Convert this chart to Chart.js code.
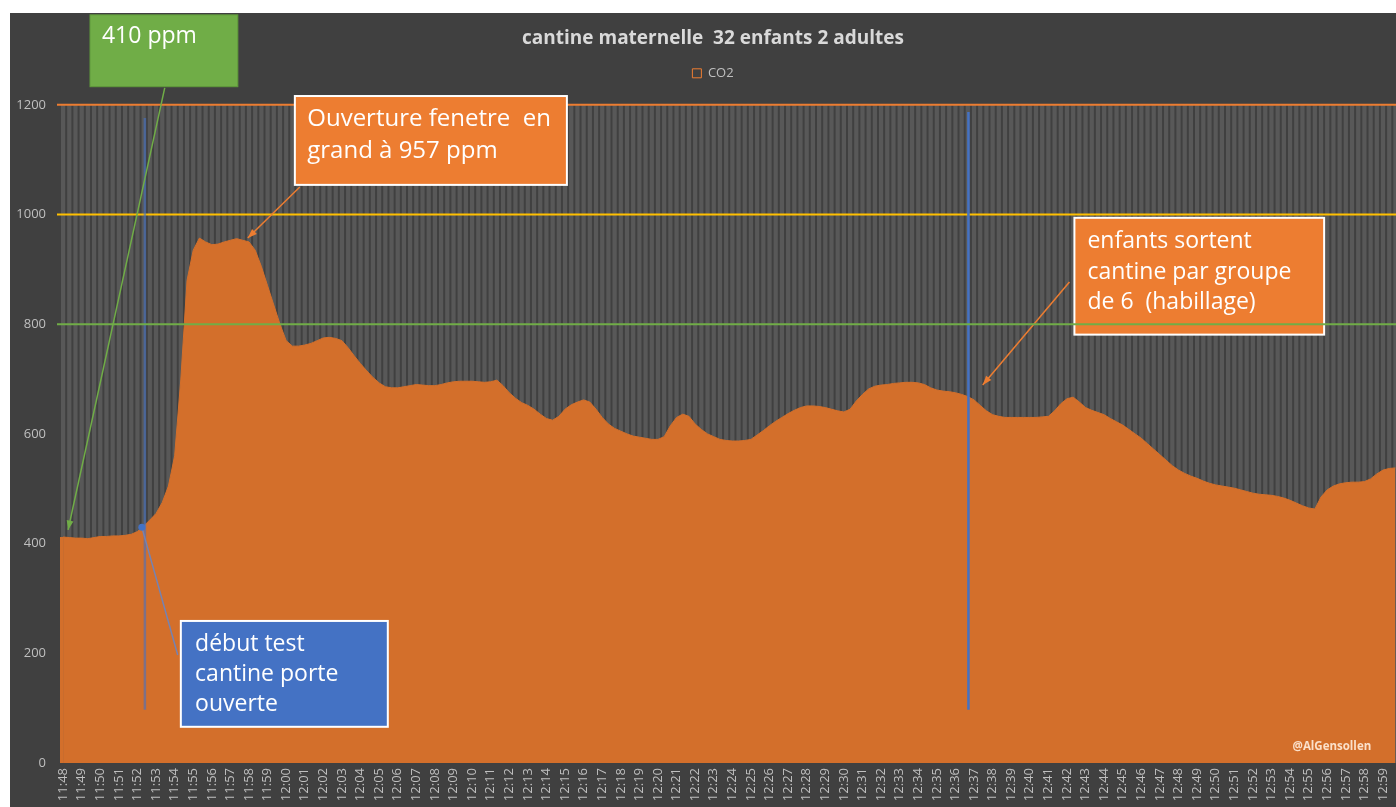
<!DOCTYPE html>
<html lang="fr">
<head>
<meta charset="utf-8">
<title>cantine maternelle</title>
<script src="https://cdn.jsdelivr.net/npm/chart.js@4.4.1/dist/chart.umd.min.js"></script>
<style>
  html, body { margin: 0; padding: 0; background: #fff; overflow: hidden; }
  #wrap { position: absolute; left: 10px; top: 13px; width: 1406px; height: 807px; }
</style>
</head>
<body>
<div id="wrap"><canvas id="co2Chart"></canvas></div>
<script>
const minutes = [
  "11:48", "11:49", "11:50", "11:51", "11:52", "11:53", "11:54", "11:55", "11:56", "11:57", "11:58", "11:59",
  "12:00", "12:01", "12:02", "12:03", "12:04", "12:05", "12:06", "12:07", "12:08", "12:09", "12:10", "12:11",
  "12:12", "12:13", "12:14", "12:15", "12:16", "12:17", "12:18", "12:19", "12:20", "12:21", "12:22", "12:23",
  "12:24", "12:25", "12:26", "12:27", "12:28", "12:29", "12:30", "12:31", "12:32", "12:33", "12:34", "12:35",
  "12:36", "12:37", "12:38", "12:39", "12:40", "12:41", "12:42", "12:43", "12:44", "12:45", "12:46", "12:47",
  "12:48", "12:49", "12:50", "12:51", "12:52", "12:53", "12:54", "12:55", "12:56", "12:57", "12:58", "12:59"
];
const secondes = ["00", "20", "40"];

// CO2 en ppm, une mesure toutes les 20 s
const co2 = [
  412, 411, 410, 410, 409, 411, 413, 413, 414, 414, 415, 417,
  422, 432, 443, 455, 475, 505, 560, 700, 880, 935, 957, 950,
  945, 946, 950, 953, 956, 953, 950, 935, 905, 870, 835, 800,
  770, 760, 760, 762, 765, 770, 775, 776, 774, 770, 757, 742,
  728, 715, 703, 693, 686, 684, 684, 686, 688, 690, 689, 688,
  688, 690, 693, 695, 696, 696, 696, 695, 694, 695, 698, 688,
  675, 665, 657, 652, 645, 636, 628, 625, 632, 645, 653, 658,
  662, 658, 645, 630, 618, 610, 605, 600, 596, 594, 592, 590,
  590, 595, 615, 630, 636, 632, 618, 608, 600, 595, 590, 588,
  587, 587, 588, 590, 598, 606, 615, 623, 630, 637, 643, 648,
  651, 651, 650, 648, 645, 642, 640, 645, 660, 672, 682, 687,
  689, 690, 692, 693, 694, 694, 693, 690, 684, 680, 678, 677,
  675, 672, 668, 662, 652, 642, 635, 632, 630, 630, 630, 630,
  630, 630, 631, 632, 642, 655, 664, 667, 658, 648, 643, 639,
  635, 628, 622, 616, 608, 600, 592, 582, 572, 562, 552, 542,
  534, 528, 523, 519, 514, 510, 507, 505, 503, 501, 498, 495,
  492, 490, 489, 488, 486, 483, 479, 474, 469, 465, 463, 485,
  498, 505, 509, 511, 512, 512, 513, 518, 527, 534, 537, 538
];

const seuils = [1200, 1000, 800];
const seuilCouleurs = ["#ED7D31", "#FFC000", "#70AD47"];

const labels = minutes.flatMap(m => secondes.map(s => m + ":" + s));

const FONT = "'Open Sans'";
const ORANGE_AIRE = "#d36f2b";

function fleche(ctx, x1, y1, x2, y2, couleur) {
  ctx.strokeStyle = couleur;
  ctx.fillStyle = couleur;
  ctx.lineWidth = 1.5;
  ctx.beginPath();
  ctx.moveTo(x1, y1);
  ctx.lineTo(x2, y2);
  ctx.stroke();
  const a = Math.atan2(y2 - y1, x2 - x1), t = 10;
  ctx.beginPath();
  ctx.moveTo(x2, y2);
  ctx.lineTo(x2 - t * Math.cos(a - 0.35), y2 - t * Math.sin(a - 0.35));
  ctx.lineTo(x2 - t * Math.cos(a + 0.35), y2 - t * Math.sin(a + 0.35));
  ctx.closePath();
  ctx.fill();
}

function boite(ctx, x1, y1, x2, y2, fond, bord, bordLargeur) {
  ctx.fillStyle = fond;
  ctx.fillRect(x1, y1, x2 - x1, y2 - y1);
  ctx.strokeStyle = bord;
  ctx.lineWidth = bordLargeur;
  ctx.strokeRect(x1, y1, x2 - x1, y2 - y1);
}

function texte(ctx, lignes, x, ys, taille) {
  ctx.fillStyle = "#ffffff";
  ctx.font = taille + "px " + FONT;
  ctx.textAlign = "left";
  ctx.textBaseline = "middle";
  lignes.forEach((l, i) => ctx.fillText(l, x, ys[i]));
}

function seuil(chart, k) {
  const { ctx, chartArea, scales: { y } } = chart;
  const py = y.getPixelForValue(seuils[k]);
  ctx.strokeStyle = seuilCouleurs[k];
  ctx.lineWidth = 2;
  ctx.beginPath();
  ctx.moveTo(chartArea.left - 3, py);
  ctx.lineTo(chart.width, py);
  ctx.stroke();
}

const fondPlugin = {
  id: "fond",
  beforeInit(chart) {
    // un peu plus d'espace sous la légende
    const fit = chart.legend.fit;
    chart.legend.fit = function () {
      fit.call(this);
      this.height += 15;
    };
  },
  beforeDraw(chart) {
    const { ctx, width, height } = chart;
    ctx.save();
    ctx.fillStyle = "#404040";
    ctx.fillRect(0, 0, width, height);
    ctx.restore();
  },
  beforeDatasetsDraw(chart) {
    const { ctx, scales: { x, y } } = chart;
    const w = (x.getPixelForValue(1) - x.getPixelForValue(0)) * 0.68;
    const top = y.getPixelForValue(1200), bas = y.getPixelForValue(0);
    ctx.save();
    ctx.fillStyle = "#585858";
    labels.forEach((l, i) => {
      ctx.fillRect(x.getPixelForValue(i) - w / 2, top, w, bas - top);
    });
    ctx.restore();
  },
  afterDatasetsDraw(chart) {
    const { ctx, chartArea, scales: { x, y } } = chart;
    ctx.save();
    // l'aire commence au bord gauche du graphique
    const y0 = y.getPixelForValue(co2[0]);
    ctx.fillStyle = ORANGE_AIRE;
    ctx.fillRect(chartArea.left, y0, x.getPixelForValue(0) - chartArea.left + 0.5, y.getPixelForValue(0) - y0);
    seuil(chart, 0);
    seuil(chart, 1);
    ctx.restore();
  }
};

const notesPlugin = {
  id: "notes",
  afterDraw(chart) {
    const { ctx, scales: { x, y } } = chart;
    const px = v => x.getPixelForValue(v);
    const py = v => y.getPixelForValue(v);
    ctx.save();

    // lignes verticales bleues
    ctx.lineWidth = 2.5;
    ctx.strokeStyle = "rgba(68,114,196,0.6)";
    ctx.beginPath(); ctx.moveTo(px(13.2), py(1176)); ctx.lineTo(px(13.2), py(97)); ctx.stroke();
    ctx.strokeStyle = "#4472C4";
    ctx.beginPath(); ctx.moveTo(px(146.1), py(1187)); ctx.lineTo(px(146.1), py(97)); ctx.stroke();

    // 410 ppm
    boite(ctx, px(4.34), py(1364), px(28.2), py(1233), "#70AD47", "#5f9a3b", 1);
    texte(ctx, ["410 ppm"], px(6.27), [py(1324)], 23);
    fleche(ctx, px(16.4), py(1231), px(0.8), py(425), "#70AD47");

    // ouverture fenetre
    boite(ctx, px(37.4), py(1216), px(81.3), py(1054), "#ED7D31", "#ffffff", 2);
    texte(ctx, ["Ouverture fenetre  en", "grand à 957 ppm"], px(39.4), [py(1174), py(1116)], 24);
    fleche(ctx, px(38.2), py(1050), px(29.8), py(957), "#ED7D31");

    // enfants sortent
    boite(ctx, px(163.2), py(994), px(203.5), py(781), "#ED7D31", "#ffffff", 2);
    texte(ctx, ["enfants sortent", "cantine par groupe", "de 6  (habillage)"], px(165.3), [py(950), py(895), py(839)], 23);
    fleche(ctx, px(162.4), py(877), px(148.4), py(689), "#ED7D31");

    // debut test
    boite(ctx, px(19.0), py(259), px(52.4), py(66), "#4472C4", "#ffffff", 2);
    texte(ctx, ["début test", "cantine porte", "ouverte"], px(21.3), [py(217), py(162), py(106)], 23);
    ctx.strokeStyle = "#7483b3";
    ctx.lineWidth = 1.5;
    ctx.beginPath(); ctx.moveTo(px(18.5), py(197)); ctx.lineTo(px(12.7), py(430)); ctx.stroke();
    ctx.fillStyle = "#4472C4";
    ctx.beginPath(); ctx.arc(px(12.7), py(430), 3.5, 0, Math.PI * 2); ctx.fill();

    // seuil 800
    seuil(chart, 2);

    // signature
    ctx.fillStyle = "rgba(255,236,220,0.9)";
    ctx.font = "bold 11.5px " + FONT;
    ctx.textAlign = "right";
    ctx.textBaseline = "middle";
    ctx.fillText("@AlGensollen", px(211.1), py(29));
    ctx.restore();
  }
};

new Chart(document.getElementById("co2Chart"), {
  type: "bar",
  data: {
    labels: labels,
    datasets: [{
      type: "line",
      label: "CO2",
      data: co2,
      backgroundColor: ORANGE_AIRE,
      borderColor: ORANGE_AIRE,
      borderWidth: 1,
      pointRadius: 0,
      tension: 0,
      fill: "origin"
    }]
  },
  options: {
    responsive: true,
    maintainAspectRatio: false,
    animation: false,
    layout: { padding: { left: 0, right: 0, top: 0, bottom: 0 } },
    plugins: {
      title: {
        display: true,
        text: "cantine maternelle  32 enfants 2 adultes",
        color: "#d9d9d9",
        font: { family: FONT, size: 19, weight: "bold" },
        padding: { top: 14, bottom: 9 }
      },
      legend: {
        labels: {
          color: "#bfbfbf",
          font: { family: FONT, size: 13 },
          boxWidth: 9,
          boxHeight: 9,
          padding: 8,
          generateLabels: () => [{
            text: "CO2", fillStyle: "rgba(0,0,0,0)", strokeStyle: "#ED7D31",
            lineWidth: 1, fontColor: "#bfbfbf", datasetIndex: 0
          }]
        }
      },
      tooltip: { enabled: false }
    },
    scales: {
      x: {
        offset: true,
        grid: { display: false, drawTicks: false, offset: true },
        border: { display: false },
        ticks: {
          autoSkip: false,
          minRotation: 90,
          maxRotation: 90,
          padding: 5,
          color: "#bfbfbf",
          font: { family: FONT, size: 13 },
          callback: (v, i) => (i % 3 === 0 ? minutes[i / 3] : "")
        },
        afterFit: s => { s.height = 57; }
      },
      y: {
        min: 0,
        max: 1200,
        grid: { display: false, drawTicks: false },
        border: { display: false },
        ticks: {
          stepSize: 200,
          padding: 14,
          color: "#bfbfbf",
          font: { family: FONT, size: 13 },
          callback: v => String(v)
        },
        afterFit: s => { s.width = 50; }
      }
    }
  },
  plugins: [fondPlugin, notesPlugin]
});
</script>
</body>
</html>
